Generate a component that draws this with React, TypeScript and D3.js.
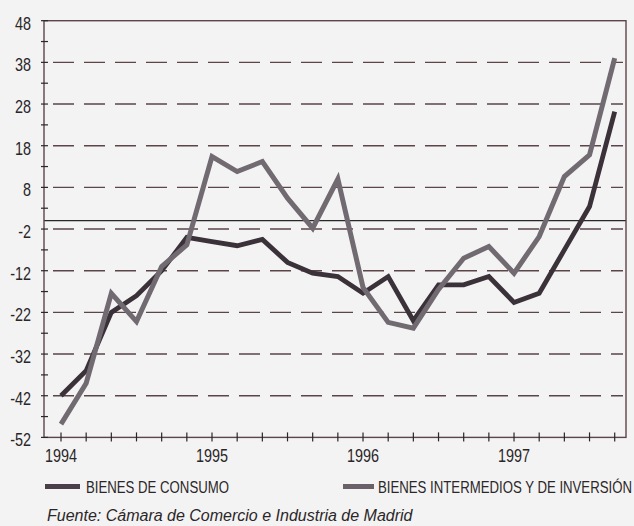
import React from "react"
import * as d3 from "d3"

// bimonthly observations, Jan-Feb 1994 .. Sep-Oct 1997
const periods = d3.range(23)
const consumo = [
  -42, -36, -22, -18, -12, -4, -5, -6, -4.5, -10, -12.6, -13.4, -17.4, -13.4, -24, -15.4, -15.4,
  -13.4, -19.6, -17.4, -7, 3.4, 26.2,
]
const intermedios = [
  -48.8, -39, -17.4, -24.2, -11, -5.8, 15.4, 11.8, 14.2, 5.4, -1.8, 10, -16, -24.4, -25.8, -16.5,
  -9, -6.2, -12.6, -3.8, 10.6, 15.8, 39,
]
const yearLabels = ["1994", "1995", "1996", "1997"]
const yTicks = [48, 38, 28, 18, 8, -2, -12, -22, -32, -42, -52]
const legendLabels = ["BIENES DE CONSUMO", "BIENES INTERMEDIOS Y DE INVERSIÓN"]
const source = "Fuente: Cámara de Comercio e Industria de Madrid"

const W = 634
const H = 526
const frame = { left: 44, right: 626, top: 20.7, bottom: 437.4 }
const sans = "'Liberation Sans', Arial, sans-serif"
const ink = "#2b2628"
const gridColor = "#5c4549"

// no narrow face installed, so squeeze the regular one horizontally
const Narrow: React.FC<{
  x: number
  y: number
  size: number
  anchor?: "start" | "middle" | "end"
  children: React.ReactNode
}> = ({ x, y, size, anchor = "start", children }) => (
  <text
    transform={`translate(${x},${y}) scale(0.8,1)`}
    textAnchor={anchor}
    fontFamily={sans}
    fontSize={size}
    fill={ink}
  >
    {children}
  </text>
)

const App: React.FC = () => {
  const x = d3.scaleLinear().domain([0, 22]).range([61, 614.7])
  const y = d3.scaleLinear().domain([-52, 48]).range([frame.bottom, frame.top])

  const line = d3
    .line<number>()
    .x((_, i) => x(periods[i]))
    .y((d) => y(d))

  const minorY = d3.range(-52, 49, 5)
  const xTicks = d3.range(0, 23)

  return (
    <svg
      width={W}
      height={H}
      style={{ position: "absolute", left: 0, top: 0, background: "#f3f3f3" }}
    >
      {/* dashed grid */}
      {yTicks
        .filter((t) => t !== 48 && t !== -52)
        .map((t) => (
          <line
            key={"g" + t}
            x1={53}
            x2={623}
            y1={y(t)}
            y2={y(t)}
            stroke={gridColor}
            strokeWidth={1.4}
            strokeDasharray="21,10"
          />
        ))}
      {/* zero line */}
      <line x1={frame.left} x2={frame.right} y1={y(0)} y2={y(0)} stroke={ink} strokeWidth={1.2} />
      {/* frame */}
      <rect
        x={frame.left}
        y={frame.top}
        width={frame.right - frame.left}
        height={frame.bottom - frame.top}
        fill="none"
        stroke={gridColor}
        strokeWidth={1.4}
      />
      {/* y ticks */}
      {minorY.map((t) => (
        <line key={"yt" + t} x1={41} x2={48} y1={y(t)} y2={y(t)} stroke={ink} strokeWidth={1.2} />
      ))}
      {yTicks.map((t) => (
        <Narrow key={"yl" + t} x={31} y={y(t) + 9} size={18} anchor="end">
          {t}
        </Narrow>
      ))}
      {/* x ticks */}
      {xTicks.map((t) => (
        <line
          key={"xt" + t}
          x1={x(t)}
          x2={x(t)}
          y1={frame.bottom - 5}
          y2={frame.bottom + 4}
          stroke={ink}
          strokeWidth={1.2}
        />
      ))}
      {yearLabels.map((lab, i) => (
        <Narrow key={lab} x={x(i * 6)} y={462} size={18} anchor="middle">
          {lab}
        </Narrow>
      ))}
      {/* series */}
      <path
        d={line(consumo) || ""}
        fill="none"
        stroke="#3a3139"
        strokeWidth={4.8}
        strokeLinejoin="miter"
      />
      <path
        d={line(intermedios) || ""}
        fill="none"
        stroke="#716a71"
        strokeWidth={5}
        strokeLinejoin="miter"
      />
      {/* legend */}
      <rect x={45} y={484} width={35} height={5} fill="#4a3f47" />
      <Narrow x={86} y={493} size={16.5}>
        {legendLabels[0]}
      </Narrow>
      <rect x={343} y={484} width={31} height={5} fill="#6a6068" />
      <Narrow x={378} y={493} size={16.5}>
        {legendLabels[1]}
      </Narrow>
      <text x={47} y={521} fontFamily={sans} fontStyle="italic" fontSize={16} fill={ink}>
        {source}
      </text>
    </svg>
  )
}

export default App
